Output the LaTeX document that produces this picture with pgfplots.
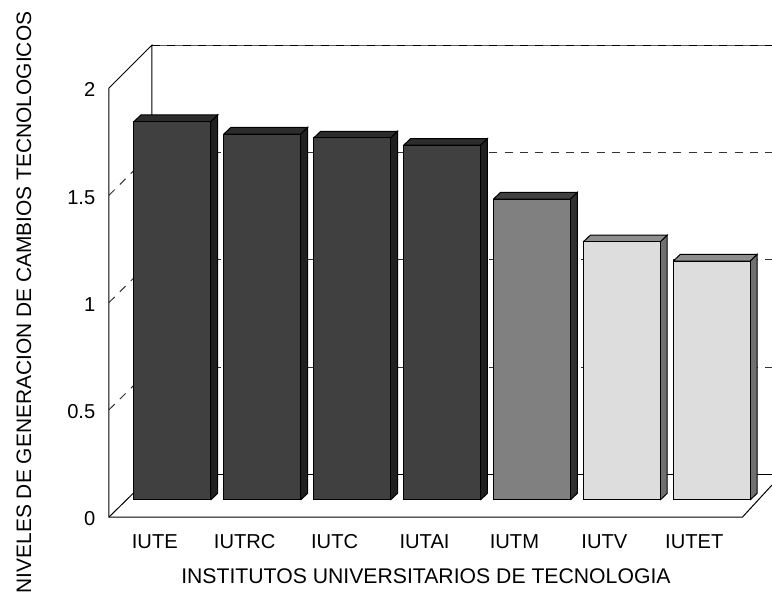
\documentclass[border=0pt]{standalone}
\usepackage{fontspec}
\setmainfont{Liberation Sans}
\usepackage{pgfplots}
\pgfplotsset{compat=1.18}

\definecolor{darkF}{HTML}{404040}
\definecolor{darkT}{HTML}{2C2C2C}
\definecolor{darkS}{HTML}{202020}
\definecolor{midF}{HTML}{808080}
\definecolor{midT}{HTML}{404040}
\definecolor{midS}{HTML}{303030}
\definecolor{lightF}{HTML}{DDDDDD}
\definecolor{lightT}{HTML}{8E8E8E}
\definecolor{lightS}{HTML}{707070}

% one bar: position, value, front, top and side colours
\newcommand{\threedbar}[5]{
  \pgfmathsetmacro\bxl{#1-0.427}
  \pgfmathsetmacro\bxr{#1+0.427}
  \pgfmathsetmacro\bxd{#1+0.427+0.078}
  \pgfmathsetmacro\bxk{#1-0.427+0.078}
  \pgfmathsetmacro\byd{#2+0.031}
  \addplot[fill=#5,draw=black,line width=0.75pt] coordinates {(\bxr,0) (\bxd,0.031) (\bxd,\byd) (\bxr,#2) (\bxr,0)};
  \addplot[fill=#4,draw=black,line width=0.75pt] coordinates {(\bxl,#2) (\bxk,\byd) (\bxd,\byd) (\bxr,#2) (\bxl,#2)};
  \addplot[ybar,bar shift=0pt,bar width=0.854,fill=#3,draw=black,line width=0.75pt] coordinates {(#1,#2)};
}

\begin{document}
\begin{tikzpicture}
\useasboundingbox (0,0) rectangle (579pt,445.5pt);
\begin{axis}[
    at={(81.75pt,57.75pt)},
    anchor=south west,
    scale only axis,
    width=497.25pt,
    height=354pt,
    xmin=-0.7041, xmax=6.6707,
    ymin=-0.0793, ymax=2.1212,
    clip=false,
    axis line style={draw=none},
    major tick length=0pt,
    tick style={draw=none},
    xtick={0,1,2,3,4,5,6},
    xticklabels={IUTE,IUTRC,IUTC,IUTAI,IUTM,IUTV,IUTET},
    ytick={0,0.5,1,1.5,2},
    /pgf/number format/assume math mode=true,
    ticklabel style={font=\fontsize{15.1}{17}\selectfont},
    typeset ticklabels with strut,
    griddash/.style={black!80,line width=0.75pt,dash pattern=on 6pt off 5.5pt},
    x tick label style={xshift=-13.1pt,yshift=-8pt},
    y tick label style={yshift=-16.1pt,xshift=-6.75pt},
    xlabel={\fontsize{15.9}{18}\selectfont INSTITUTOS UNIVERSITARIOS DE TECNOLOGIA},
    ylabel={\fontsize{15.7}{18}\selectfont NIVELES DE GENERACION DE CAMBIOS TECNOLOGICOS},
    xlabel style={at={(axis description cs:0.478,-0.125)},anchor=center},
    ylabel style={at={(axis description cs:-0.1282,0.4544)},anchor=center,rotate=0},
]
% gridlines on the left wall
\addplot[griddash] coordinates {(-0.7041,0.4207) (-0.2258,0.6177)};
\addplot[griddash] coordinates {(-0.7041,0.9207) (-0.2258,1.1189)};
\addplot[griddash] coordinates {(-0.7041,1.4207) (-0.2258,1.6200)};
% gridlines on the back wall
\addplot[griddash] coordinates {(-0.2258,0.6177) (6.6707,0.6177)};
\addplot[griddash] coordinates {(-0.2258,1.1189) (6.6707,1.1189)};
\addplot[griddash] coordinates {(-0.2258,1.6200) (6.6707,1.6200)};
\addplot[black!65,line width=0.6pt] coordinates {(-0.2258,2.1212) (6.6707,2.1212)};
\addplot[black,line width=0.75pt,dash pattern=on 6pt off 5.5pt] coordinates {(-0.2258,2.1212) (6.6707,2.1212)};
% frame
\addplot[black,line width=0.75pt] coordinates {(-0.2258,0.1166) (6.6707,0.1166)};
\addplot[black,line width=0.75pt] coordinates {(-0.2258,0.1166) (-0.2258,2.1212) (-0.7041,1.9207) (-0.7041,-0.0793) (6.3432,-0.0793) (6.6707,0.0699)};
\addplot[black,line width=0.75pt] coordinates {(-0.7041,-0.0793) (-0.2258,0.1166)};
% bars
\threedbar{0}{1.764}{darkF}{darkT}{darkS}
\threedbar{1}{1.706}{darkF}{darkT}{darkS}
\threedbar{2}{1.688}{darkF}{darkT}{darkS}
\threedbar{3}{1.654}{darkF}{darkT}{darkS}
\threedbar{4}{1.403}{midF}{midT}{midS}
\threedbar{5}{1.204}{lightF}{lightT}{lightS}
\threedbar{6}{1.114}{lightF}{lightT}{lightS}
\end{axis}
\end{tikzpicture}
\end{document}
